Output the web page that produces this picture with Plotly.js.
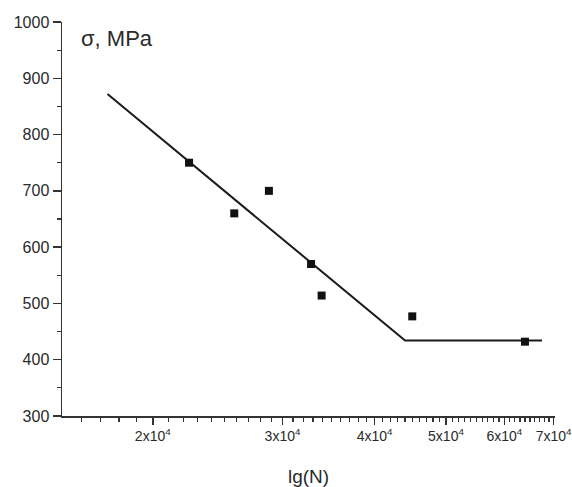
<!DOCTYPE html>
<html>
<head>
<meta charset="utf-8">
<script src="https://cdn.plot.ly/plotly-3.0.1.min.js"></script>
<style>html,body{margin:0;padding:0;background:#fff;}#chart{width:572px;height:487px;}</style>
</head>
<body>
<div id="chart"></div>
<script>
// Measured data points (N cycles, stress MPa)
const pointsN = [22400, 25800, 28750, 32800, 33900, 45000, 64000];
const pointsSigma = [750, 660, 700, 570, 514, 477, 432];
// Fitted S-N line (start, knee, end)
const fitN = [17360, 44000, 67500];
const fitSigma = [872, 434, 434];
// Axis ticks
const xTickVals = [20000, 30000, 40000, 50000, 60000, 70000];
const xTickText = ['2x10<sup>4</sup>', '3x10<sup>4</sup>', '4x10<sup>4</sup>', '5x10<sup>4</sup>', '6x10<sup>4</sup>', '7x10<sup>4</sup>'];

const xMinor = [];
for (let v = 15000; v <= 70000; v += 1000) { if (v % 10000 !== 0) xMinor.push(v); }

const font = 'Liberation Sans, Arial, sans-serif';
const traces = [
  {x: fitN, y: fitSigma, mode: 'lines', line: {color: '#1a1a1a', width: 2}, hoverinfo: 'skip'},
  {x: pointsN, y: pointsSigma, mode: 'markers', marker: {symbol: 'square', size: 8, color: '#111'}}
];
const layout = {
  width: 572, height: 487,
  margin: {l: 62, r: 17, t: 22, b: 71},
  paper_bgcolor: '#fff', plot_bgcolor: '#fff',
  showlegend: false,
  font: {family: font, color: '#333'},
  xaxis: {
    type: 'log', range: [Math.log10(15060), Math.log10(70300)],
    tickmode: 'array', tickvals: xTickVals, ticktext: xTickText,
    ticks: 'outside', ticklen: 7, tickwidth: 1.5, tickcolor: '#333',
    ticklabeloverflow: 'allow',
    showline: true, linecolor: '#333', linewidth: 1.5,
    showgrid: false, zeroline: false,
    tickfont: {size: 14, family: font, color: '#2a2a2a'},
    minor: {tickmode: 'array', tickvals: xMinor, ticks: 'outside', ticklen: 4, tickwidth: 1.2, tickcolor: '#333', showgrid: false},
    title: {text: 'lg(N)', font: {size: 19, family: font, color: '#2a2a2a'}, standoff: 26}
  },
  yaxis: {
    range: [300, 1000], dtick: 100, tick0: 300,
    ticks: 'outside', ticklen: 8, tickwidth: 1.5, tickcolor: '#333',
    showline: true, linecolor: '#333', linewidth: 1.5,
    showgrid: false, zeroline: false,
    tickfont: {size: 16, family: font, color: '#2a2a2a'},
    minor: {dtick: 50, ticks: 'outside', ticklen: 4, tickwidth: 1.2, tickcolor: '#333', showgrid: false}
  },
  annotations: [{
    text: 'σ, MPa', xref: 'paper', yref: 'paper', x: 0.035, y: 0.957,
    xanchor: 'left', yanchor: 'middle', showarrow: false,
    font: {size: 22, family: font, color: '#2a2a2a'}
  }]
};
Plotly.newPlot('chart', traces, layout, {displayModeBar: false, staticPlot: true});
</script>
</body>
</html>
